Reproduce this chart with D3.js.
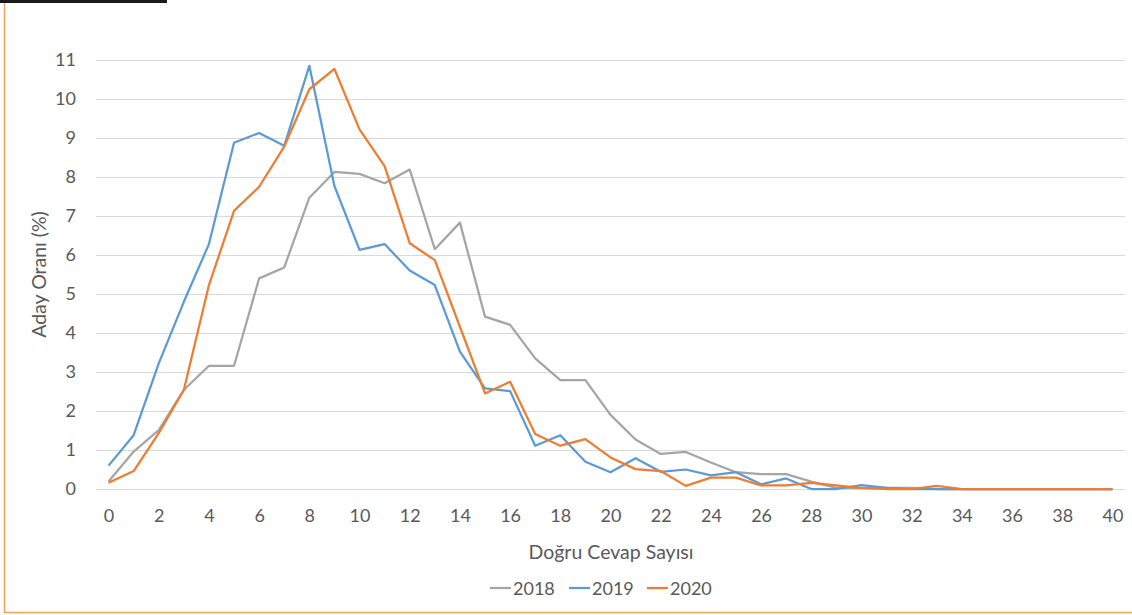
<!DOCTYPE html>
<html>
<head>
<meta charset="utf-8">
<script src="https://cdn.jsdelivr.net/npm/d3@7"></script>
<style>
  body { margin: 0; background: #fff; }
  svg { display: block; }
  text { font-family: Lato, "Open Sans", sans-serif; fill: #595959; }
</style>
</head>
<body>
<div id="chart"></div>
<script>
// number of correct answers (categories)
let cevap = [0, 1, 2, 3, 4, 5, 6, 7, 8, 9, 10, 11, 12, 13, 14, 15, 16, 17, 18, 19, 20,
    21, 22, 23, 24, 25, 26, 27, 28, 29, 30, 31, 32, 33, 34, 35, 36, 37, 38, 39, 40];

let y2018 = [0.19, 0.96, 1.51, 2.54, 3.16, 3.16, 5.40, 5.68, 7.47, 8.13, 8.08, 7.84, 8.19, 6.15, 6.83,
    4.42, 4.21, 3.35, 2.79, 2.79, 1.90, 1.27, 0.90, 0.95, 0.68, 0.43, 0.38, 0.38, 0.19, 0.03,
    0.03, 0.03, 0.03, 0, 0, 0, 0, 0, 0, 0, 0];
let y2019 = [0.60, 1.38, 3.22, 4.80, 6.28, 8.88, 9.13, 8.80, 10.85, 7.77, 6.13, 6.28, 5.60, 5.23, 3.52,
    2.58, 2.51, 1.11, 1.38, 0.70, 0.43, 0.79, 0.44, 0.50, 0.35, 0.43, 0.12, 0.27, 0, 0,
    0.10, 0.03, 0, 0, 0, 0, 0, 0, 0, 0, 0];
let y2020 = [0.16, 0.46, 1.43, 2.54, 5.23, 7.13, 7.75, 8.78, 10.25, 10.77, 9.22, 8.28, 6.30, 5.87, 4.16,
    2.45, 2.75, 1.41, 1.11, 1.28, 0.81, 0.51, 0.46, 0.08, 0.29, 0.29, 0.09, 0.09, 0.16, 0.09,
    0.02, 0, 0, 0.08, 0, 0, 0, 0, 0, 0, 0];

let yTicks = [0, 1, 2, 3, 4, 5, 6, 7, 8, 9, 10, 11];
let xTicks = [0, 2, 4, 6, 8, 10, 12, 14, 16, 18, 20, 22, 24, 26, 28, 30, 32, 34, 36, 38, 40];

let series = [
    { name: "2018", values: y2018, color: "#A5A5A5" },
    { name: "2019", values: y2019, color: "#5B9BD5" },
    { name: "2020", values: y2020, color: "#ED7D31" }
];

let width = 1132, height = 615;
let plot = { left: 96, right: 1125, top: 60, bottom: 489 };

let svg = d3.select("#chart")
    .append("svg")
    .attr("width", width)
    .attr("height", height);

// frame bits from the screenshot crop
svg.append("rect").attr("x", 0).attr("y", 0).attr("width", 167).attr("height", 3).attr("fill", "#1a1a1a");
svg.append("line").attr("x1", 4.5).attr("x2", 4.5).attr("y1", 3).attr("y2", 613)
    .attr("stroke", "#F5A05A").attr("stroke-width", 1.5);
svg.append("line").attr("x1", 4).attr("x2", width).attr("y1", 612.5).attr("y2", 612.5)
    .attr("stroke", "#F5A05A").attr("stroke-width", 1.5);

let x = d3.scalePoint()
    .domain(cevap)
    .range([plot.left, plot.right])
    .padding(0.5);

let y = d3.scaleLinear()
    .domain([0, 11])
    .range([plot.bottom, plot.top]);

// gridlines
svg.append("g")
    .selectAll("line")
    .data(yTicks)
    .enter()
    .append("line")
    .attr("x1", plot.left)
    .attr("x2", plot.right)
    .attr("y1", d => Math.round(y(d)) + 0.5)
    .attr("y2", d => Math.round(y(d)) + 0.5)
    .attr("stroke", "#d9d9d9")
    .attr("stroke-width", 1);

// Y axis
let yAxis = svg.append("g")
    .attr("transform", `translate(${plot.left},0)`)
    .call(d3.axisLeft(y).tickValues(yTicks).tickSize(0).tickPadding(20));
yAxis.select(".domain").remove();
yAxis.selectAll("text").style("font-size", "18px").attr("fill", "#595959")
    .style("font-family", "Lato, 'Open Sans', sans-serif");

// X axis
let xAxis = svg.append("g")
    .attr("transform", `translate(0,${plot.bottom})`)
    .call(d3.axisBottom(x).tickValues(xTicks).tickSize(0).tickPadding(20));
xAxis.select(".domain").remove();
xAxis.selectAll("text").style("font-size", "18px").attr("fill", "#595959")
    .style("font-family", "Lato, 'Open Sans', sans-serif");

// Axis titles
svg.append("text")
    .attr("transform", "rotate(-90)")
    .attr("x", -(plot.top + plot.bottom) / 2)
    .attr("y", 46)
    .attr("text-anchor", "middle")
    .style("font-size", "19.5px")
    .text("Aday Oranı (%)");

svg.append("text")
    .attr("x", 611)
    .attr("y", 559)
    .attr("text-anchor", "middle")
    .style("font-size", "19.5px")
    .text("Doğru Cevap Sayısı");

// Lines
let line = d3.line()
    .x((d, i) => x(cevap[i]))
    .y(d => y(d));

svg.append("g")
    .selectAll("path")
    .data(series)
    .enter()
    .append("path")
    .attr("d", d => line(d.values))
    .attr("fill", "none")
    .attr("stroke", d => d.color)
    .attr("stroke-width", 2.25)
    .attr("stroke-linejoin", "round");

// Legend
let legendX = [490, 569, 647];
let legend = svg.append("g")
    .selectAll("g")
    .data(series)
    .enter()
    .append("g")
    .attr("transform", (d, i) => `translate(${legendX[i]},588)`);

legend.append("line")
    .attr("x1", 0)
    .attr("x2", 21)
    .attr("stroke", d => d.color)
    .attr("stroke-width", 2.25);

legend.append("text")
    .attr("x", 23)
    .attr("y", 6.5)
    .style("font-size", "18px")
    .text(d => d.name);
</script>
</body>
</html>
